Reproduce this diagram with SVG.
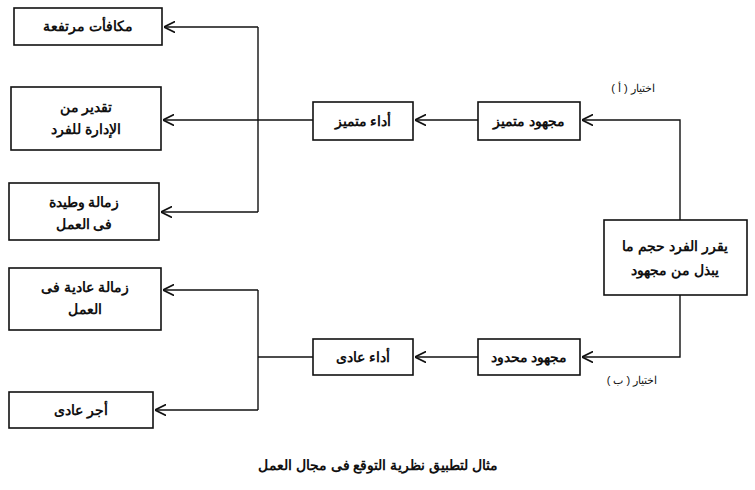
<svg xmlns="http://www.w3.org/2000/svg" width="755" height="490" viewBox="0 0 755 490">
<style>
.b{fill:#fff;stroke:#111;stroke-width:1.6}
.t{font-family:"Liberation Sans","Noto Sans",sans-serif;font-size:14px;font-weight:bold;fill:#111;text-anchor:middle}
.s{font-family:"Liberation Sans","Noto Sans",sans-serif;font-size:11px;fill:#111;text-anchor:middle}
.c{fill:none;stroke:#111;stroke-width:1.4}
</style>
<defs><marker id="a" viewBox="0 0 10 10" refX="10" refY="5" markerWidth="8" markerHeight="8" orient="auto"><path d="M0,0L10,5L0,10" fill="none" stroke="#111" stroke-width="1.5"/></marker></defs>
<rect width="755" height="490" fill="#fff"/>
<g id="connectors" class="c">
<path d="M680,220V120H582" marker-end="url(#a)"/>
<path d="M680,295V357H582" marker-end="url(#a)"/>
<path d="M478,120H415" marker-end="url(#a)"/>
<path d="M478,357H415" marker-end="url(#a)"/>
<path d="M313,120H258"/>
<path d="M258,27V212"/>
<path d="M258,27H164" marker-end="url(#a)"/>
<path d="M258,120H163" marker-end="url(#a)"/>
<path d="M258,212H161" marker-end="url(#a)"/>
<path d="M313,357H258"/>
<path d="M258,290V410"/>
<path d="M258,290H163" marker-end="url(#a)"/>
<path d="M258,410H155" marker-end="url(#a)"/>
</g>
<g id="n1"><rect class="b" x="14" y="8" width="148" height="37"/><text class="t" x="88" y="31">مكافأت مرتفعة</text></g>
<g id="n2"><rect class="b" x="11" y="87" width="150" height="63"/><text class="t" x="86" y="112">تقدير من</text><text class="t" x="86" y="134">الإدارة للفرد</text></g>
<g id="n3"><rect class="b" x="9" y="183" width="150" height="57"/><text class="t" x="84" y="207">زمالة وطيدة</text><text class="t" x="84" y="229">فى العمل</text></g>
<g id="n4"><rect class="b" x="9" y="268" width="152" height="62"/><text class="t" x="85" y="292">زمالة عادية فى</text><text class="t" x="85" y="314">العمل</text></g>
<g id="n5"><rect class="b" x="9" y="392" width="144" height="36"/><text class="t" x="81" y="415">أجر عادى</text></g>
<g id="n6"><rect class="b" x="313" y="102" width="100" height="38"/><text class="t" x="363" y="126">أداء متميز</text></g>
<g id="n7"><rect class="b" x="313" y="339" width="100" height="36"/><text class="t" x="363" y="362">أداء عادى</text></g>
<g id="n8"><rect class="b" x="478" y="102" width="102" height="38"/><text class="t" x="529" y="126">مجهود متميز</text></g>
<g id="n9"><rect class="b" x="478" y="339" width="102" height="36"/><text class="t" x="529" y="362">مجهود محدود</text></g>
<g id="n10"><rect class="b" x="604" y="220" width="143" height="75"/><text class="t" x="675" y="251">يقرر الفرد حجم ما</text><text class="t" x="675" y="275">يبذل من مجهود</text></g>
<text class="s" x="633" y="92">اختيار ( أ )</text>
<text class="s" x="632" y="384">اختيار ( ب )</text>
<text class="t" x="378" y="470">مثال لتطبيق نظرية التوقع فى مجال العمل</text>
</svg>
